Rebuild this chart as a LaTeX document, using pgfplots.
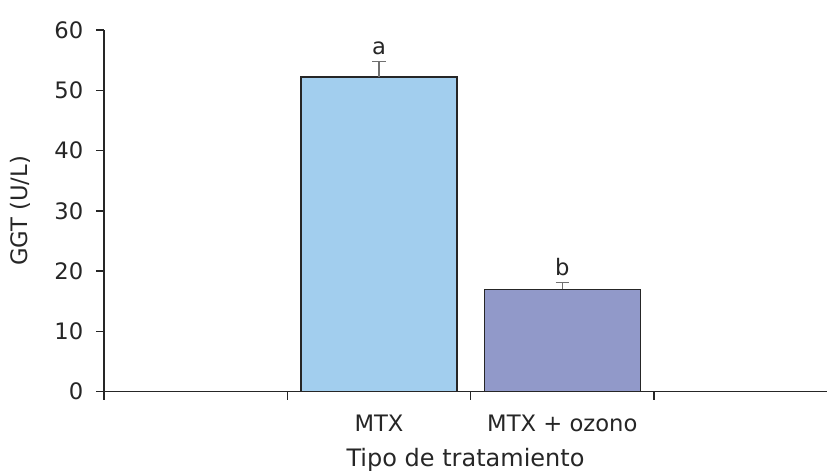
\documentclass[border=0pt]{standalone}
\usepackage{pgfplots}
\pgfplotsset{compat=1.18}
\usepackage{fontspec}
\setmainfont{DejaVu Sans}
\definecolor{barA}{HTML}{A2CEEE}
\definecolor{barB}{HTML}{9199C9}
\definecolor{errc}{HTML}{707070}
\begin{document}
\begin{tikzpicture}[x=1pt,y=1pt]
\begin{axis}[
  name=ax,
  at={(0,0)}, anchor=south west,
  scale only axis,
  width=542.25pt, height=271.3pt,
  xmin=0, xmax=3.944,
  ymin=0, ymax=60,
  axis lines*=left,
  axis line style={line width=1.1pt, color=black!85},
  x axis line style={-}, y axis line style={-},
  ytick={0,10,...,60},
  xtick={0,1,2,3},
  xticklabels={},
  extra x ticks={1.5,2.5},
  extra x tick labels={MTX, MTX + ozono},
  extra x tick style={major tick length=0pt, tick label style={yshift=-14pt}},
  tick align=outside,
  major tick length=6pt,
  tick style={line width=1pt, color=black!85},
  every tick label/.append style={font=\fontsize{17}{20}\selectfont, color=black!85},
  /pgf/number format/assume math mode=true,
  yticklabel style={xshift=-6pt},
  xlabel={Tipo de tratamiento},
  xlabel style={font=\fontsize{18}{22}\selectfont, color=black!85, at={(rel axis cs:0.5,0)}, yshift=-38.5pt, anchor=north},
  ybar, bar width=0.851, bar shift=0pt,
  clip=false,
]
\addplot[fill=barA, draw=black!85, line width=1pt,
  error bars/.cd, y dir=plus, y explicit,
  error bar style={color=errc, line width=1pt},
  error mark options={rotate=90, mark size=5pt, color=errc, line width=1pt}]
  coordinates {(1.5,52.2) +- (0,2.6)};
\addplot[fill=barB, draw=black!85, line width=1pt,
  error bars/.cd, y dir=plus, y explicit,
  error bar style={color=errc, line width=1pt},
  error mark options={rotate=90, mark size=5pt, color=errc, line width=1pt}]
  coordinates {(2.5,17.0) +- (0,1.1)};
\node[anchor=south, font=\fontsize{17}{20}\selectfont, color=black!85, inner sep=1pt] at (axis cs:1.5,55.6) {a};
\node[anchor=south, font=\fontsize{17}{20}\selectfont, color=black!85, inner sep=1pt] at (axis cs:2.5,19.0) {b};
\end{axis}
\node[rotate=90, font=\fontsize{17}{20}\selectfont, color=black!85] at (-63pt,135.65pt) {GGT (U/L)};
\pgfresetboundingbox
\path[use as bounding box] (-78pt,-61pt) rectangle (542.25pt,293.8pt);
\end{tikzpicture}
\end{document}
